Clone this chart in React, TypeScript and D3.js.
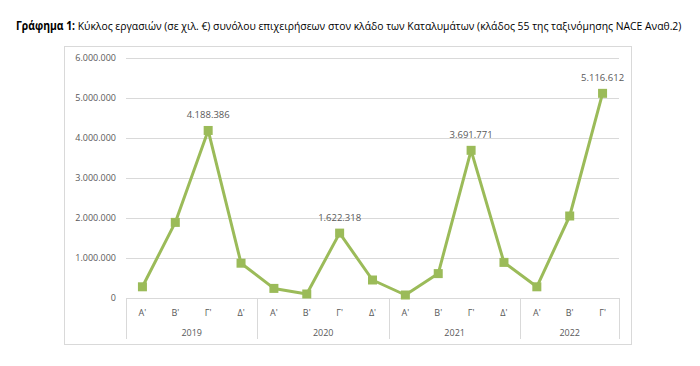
import { useEffect, useRef, useState } from "react";
import * as d3 from "d3";

const years = ["2019", "2020", "2021", "2022"];
const quarters = ["Α'", "Β'", "Γ'", "Δ'"];
const quartersPerYear = [4, 4, 4, 3];

// turnover per quarter, thousand euro (peaks labelled in the source)
const values = [
  280000, 1890000, 4188386, 870000,
  240000, 100000, 1622318, 450000,
  75000, 610000, 3691771, 890000,
  280000, 2050000, 5116612,
];
const labelled = [2, 6, 10, 14];
const yTicks = [0, 1000000, 2000000, 3000000, 4000000, 5000000, 6000000];

const GREEN = "#9bbb59";
const TEXT = "#595959";
const FONT = "'Open Sans', 'Liberation Sans', sans-serif";

const fmt = (v: number) => v.toLocaleString("de-DE");

export default function App() {
  const left = 126, right = 619, top = 58, bottom = 298;
  const titleRef = useRef<SVGTextElement>(null);
  const [titleScale, setTitleScale] = useState(0.88);

  // squeeze the title horizontally to the width it takes in the source
  useEffect(() => {
    if (!titleRef.current) return;
    const w = titleRef.current.getComputedTextLength();
    if (w > 0) setTitleScale(Math.min(1, 666 / w));
  }, []);

  const cats: { q: string; y: string }[] = [];
  years.forEach((yr, i) => {
    for (let k = 0; k < quartersPerYear[i]; k++) cats.push({ q: quarters[k], y: yr });
  });

  const x = d3.scaleBand<number>().domain(d3.range(cats.length)).range([left, right]);
  const y = d3.scaleLinear().domain([0, 6000000]).range([bottom, top]);
  const cx = (i: number) => x(i)! + x.bandwidth() / 2;

  const line = d3.line<number>().x((_, i) => cx(i)).y((d) => y(d));

  // year group boundaries
  const bounds: number[] = [0];
  quartersPerYear.reduce((acc, n) => { bounds.push(acc + n); return acc + n; }, 0);
  const bx = (k: number) => (k < cats.length ? x(k)! : right);

  return (
    <svg width={700} height={366} style={{ position: "absolute", left: 0, top: 0, background: "#fff" }}
      fontFamily={FONT}>
      <text ref={titleRef} transform={`translate(16,30) scale(${titleScale},1)`} fontSize={11.5} fill="#000">
        <tspan fontWeight="bold">Γράφημα 1:</tspan>
        <tspan> Κύκλος εργασιών (σε χιλ. €) συνόλου επιχειρήσεων στον κλάδο των Καταλυμάτων (κλάδος 55 της ταξινόμησης NACE Αναθ.2)</tspan>
      </text>

      <rect x={64.5} y={46.5} width={567} height={298} fill="#fff" stroke="#d9d9d9" />

      {yTicks.map((t) => (
        <g key={t}>
          {t > 0 && (
            <line x1={left} x2={right} y1={Math.round(y(t)) + 0.5} y2={Math.round(y(t)) + 0.5} stroke="#d9d9d9" />
          )}
          <text x={116} y={y(t)} dy="0.35em" textAnchor="end" fontSize={9} fill={TEXT}>{fmt(t)}</text>
        </g>
      ))}

      {/* category axis */}
      <line x1={left} x2={right} y1={bottom + 0.5} y2={bottom + 0.5} stroke="#d9d9d9" />
      {bounds.map((k) => (
        <line key={k} x1={Math.round(bx(k)) + 0.5} x2={Math.round(bx(k)) + 0.5} y1={bottom} y2={339} stroke="#d9d9d9" />
      ))}
      {cats.map((c, i) => (
        <text key={i} x={cx(i)} y={313} dy="0.35em" textAnchor="middle" fontSize={9} fill={TEXT}>{c.q}</text>
      ))}
      {years.map((yr, i) => (
        <text key={yr} x={(bx(bounds[i]) + bx(bounds[i + 1])) / 2} y={333} dy="0.35em" textAnchor="middle"
          fontSize={9} fill={TEXT}>{yr}</text>
      ))}

      <path d={line(values)!} fill="none" stroke={GREEN} strokeWidth={3} strokeLinejoin="round" />
      {values.map((v, i) => (
        <rect key={i} x={cx(i) - 4.5} y={y(v) - 4.5} width={9} height={9} fill={GREEN} />
      ))}
      {labelled.map((i) => (
        <text key={i} x={cx(i)} y={y(values[i]) - 12} textAnchor="middle" fontSize={9.5} fill={TEXT}>
          {fmt(values[i])}
        </text>
      ))}
    </svg>
  );
}
